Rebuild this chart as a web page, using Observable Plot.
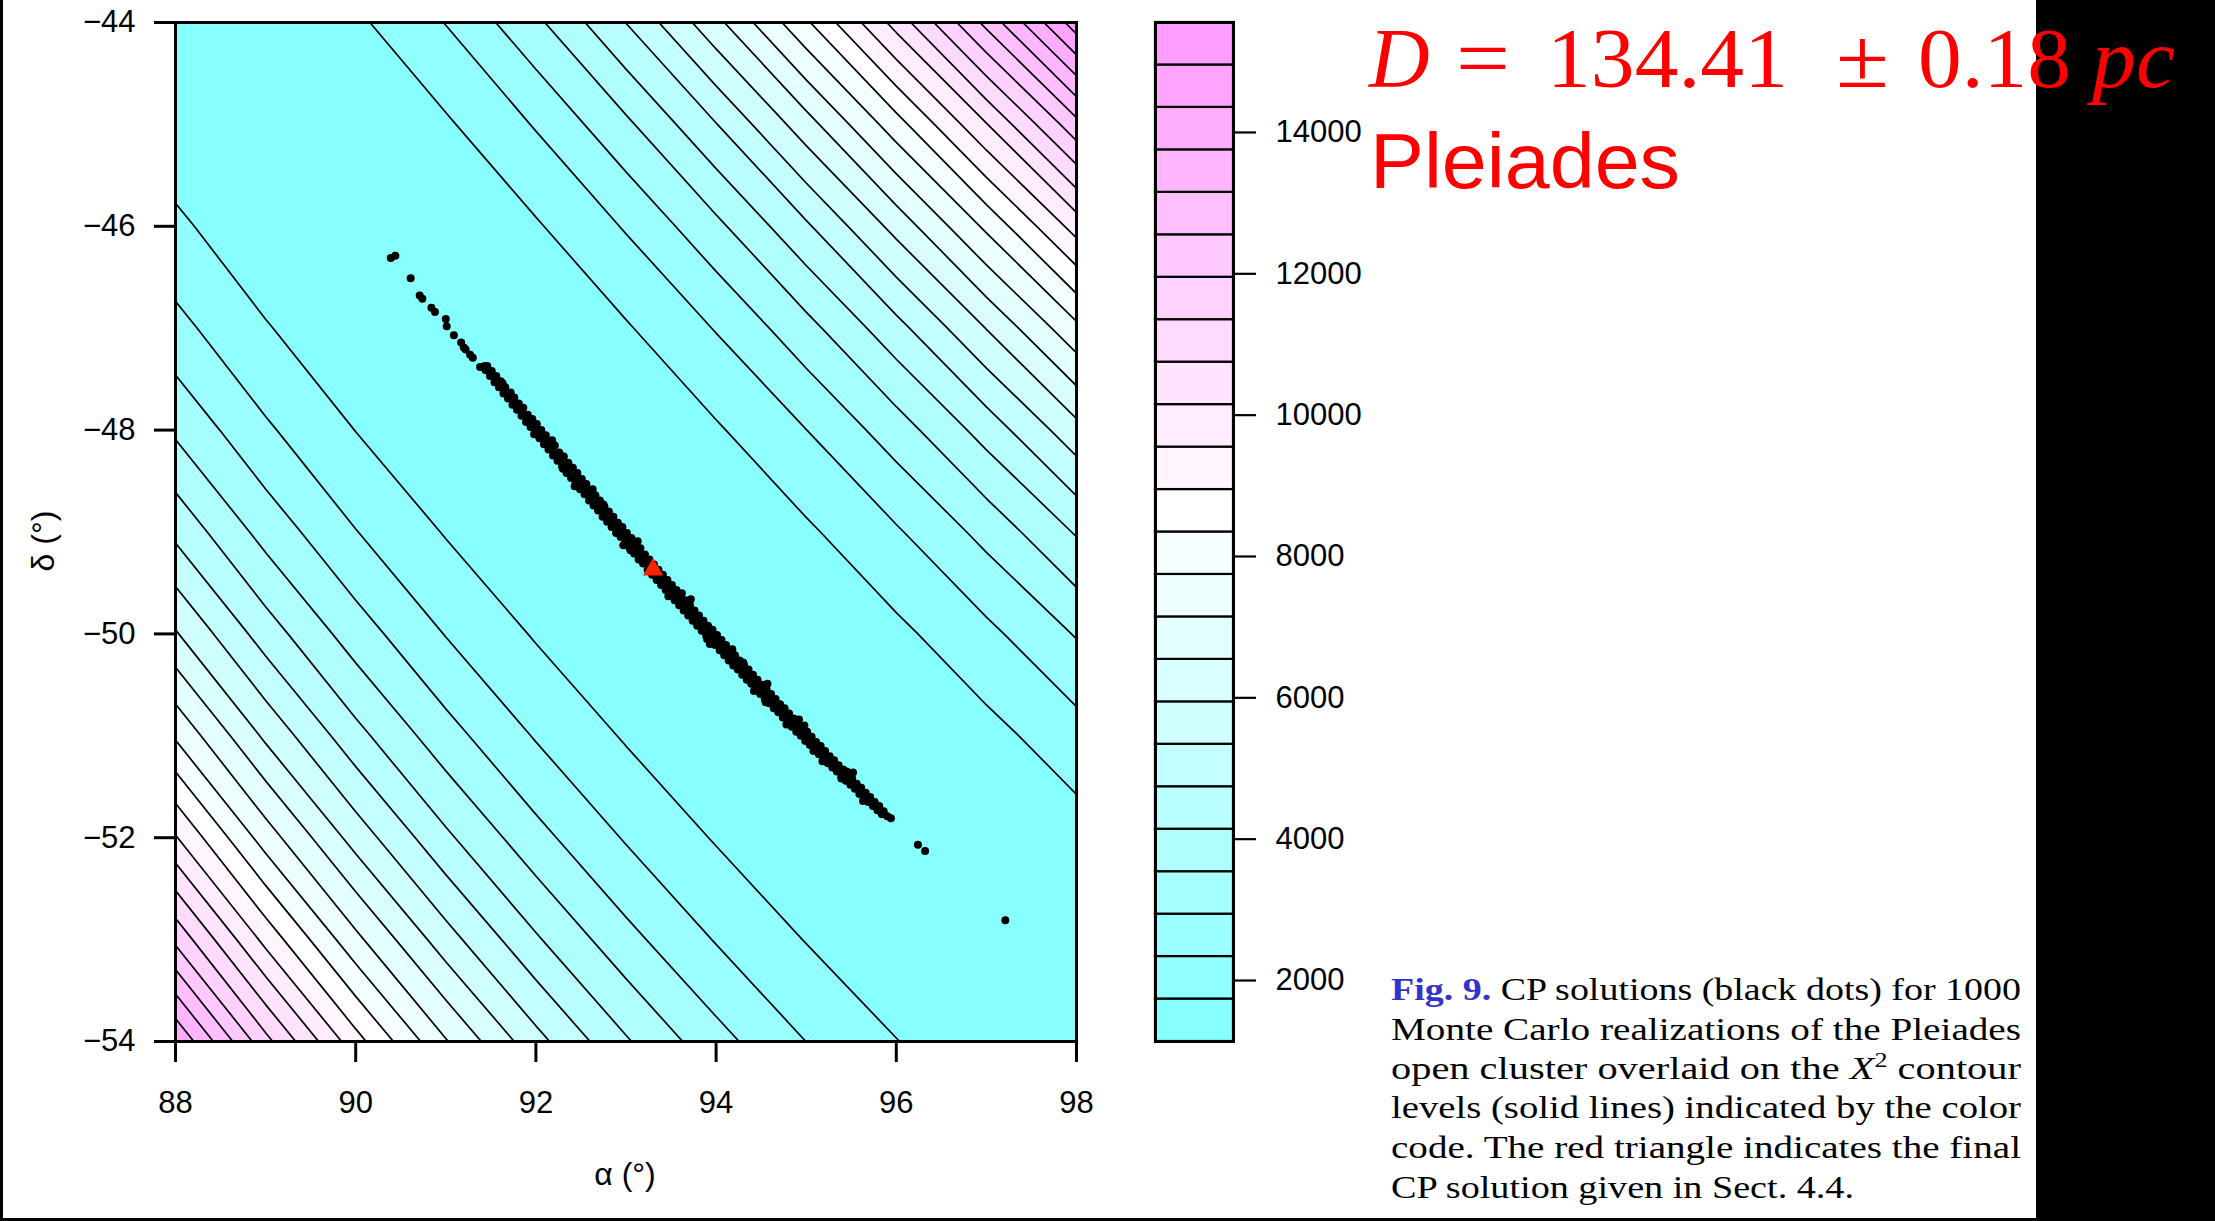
<!DOCTYPE html>
<html>
<head>
<meta charset="utf-8">
<script src="https://cdn.jsdelivr.net/npm/d3@7"></script>
<script src="https://cdn.jsdelivr.net/npm/@observablehq/plot@0.6"></script>
<style>
  html, body { margin: 0; padding: 0; background: #fff; }
  #page { position: relative; width: 2215px; height: 1221px; overflow: hidden; background: #fff; }
  #page svg { display: block; }
  .abs { position: absolute; }
</style>
</head>
<body>
<div id="page">
  <div class="abs" style="left:2036px;top:0;width:179px;height:1221px;background:#000"></div>
  <div class="abs" style="left:0;top:0;width:3px;height:1221px;background:#000"></div>
  <div class="abs" style="left:0;top:1218px;width:2215px;height:3px;background:#000"></div>
  <div id="main" class="abs" style="left:0;top:0"></div>
  <div id="bar" class="abs" style="left:1110px;top:0"></div>
  <svg class="abs" style="left:0;top:0" width="2215" height="1221">
    <g font-family="'Liberation Serif', 'Times New Roman', serif" font-size="84" fill="#ff0000">
      <text x="1369" y="87" font-style="italic">D</text>
      <text x="1456" y="87" textLength="54" lengthAdjust="spacingAndGlyphs">=</text>
      <text x="1547" y="87" textLength="241" lengthAdjust="spacingAndGlyphs">134.41</text>
      <text x="1836" y="87" textLength="53" lengthAdjust="spacingAndGlyphs">±</text>
      <text x="1918" y="87" textLength="153" lengthAdjust="spacingAndGlyphs">0.18</text>
      <text x="2092" y="87" font-style="italic" textLength="83" lengthAdjust="spacingAndGlyphs">pc</text>
    </g>
    <text x="1370" y="188" font-family="'Liberation Sans', Arial, sans-serif" font-size="77" fill="#ff0000" textLength="310" lengthAdjust="spacingAndGlyphs">Pleiades</text>
    <g font-family="'Liberation Sans', Arial, sans-serif" font-size="32" fill="#000" text-anchor="middle">
      <text x="625" y="1185">α (°)</text>
      <text transform="translate(54,541) rotate(-90)">δ (°)</text>
    </g>
    <g font-family="'Liberation Serif', 'Times New Roman', serif" font-size="31" fill="#000">
      <text x="1391" y="1000" textLength="630" lengthAdjust="spacingAndGlyphs"><tspan font-weight="bold" fill="#3333cc">Fig. 9.</tspan> CP solutions (black dots) for 1000</text>
      <text x="1391" y="1040" textLength="630" lengthAdjust="spacingAndGlyphs">Monte Carlo realizations of the Pleiades</text>
      <text x="1391" y="1079" textLength="630" lengthAdjust="spacingAndGlyphs">open cluster overlaid on the <tspan font-style="italic">X</tspan><tspan font-size="20" dy="-12">2</tspan><tspan dy="12"> contour</tspan></text>
      <text x="1391" y="1118" textLength="630" lengthAdjust="spacingAndGlyphs">levels (solid lines) indicated by the color</text>
      <text x="1391" y="1158" textLength="630" lengthAdjust="spacingAndGlyphs">code. The red triangle indicates the final</text>
      <text x="1391" y="1198" textLength="463" lengthAdjust="spacingAndGlyphs">CP solution given in Sect. 4.4.</text>
    </g>
  </svg>
</div>
<script>
// ---------- data ----------
const alphaTicks = [88, 90, 92, 94, 96, 98];
const deltaTicks = [-44, -46, -48, -50, -52, -54];
const chi2Ticks = [2000, 4000, 6000, 8000, 10000, 12000, 14000];

// contour levels (25 edges -> 24 colour bands)
const chi2Levels = [1137, 1738, 2339, 2939, 3540, 4141, 4742, 5343, 5943, 6544, 7145, 7746, 8347,
  8947, 9548, 10149, 10750, 11351, 11951, 12552, 13153, 13754, 14355, 14955, 15556];

const bandColors = ["#87ffff", "#91ffff", "#9cffff", "#a6ffff", "#b0ffff", "#baffff", "#c4ffff",
  "#cfffff", "#d9ffff", "#e3ffff", "#edffff", "#f6ffff", "#ffffff",
  "#fff5ff", "#ffecff", "#ffe3ff", "#ffdaff", "#ffd1ff", "#ffc8ff", "#ffbfff", "#ffb6ff",
  "#ffadff", "#ffa4ff", "#ff9cff"];

// chi^2 surface sampled on a 1-degree grid (rows: delta -44 ... -54, columns: alpha 88 ... 98)
const gridAlpha = [88, 89, 90, 91, 92, 93, 94, 95, 96, 97, 98];
const gridDelta = [-44, -45, -46, -47, -48, -49, -50, -51, -52, -53, -54];
const chi2Grid = [
  [1178, 1223, 1622, 2358, 3407, 4752, 6372, 8252, 10374, 12722, 15281],
  [1393, 1167, 1242, 1656, 2386, 3415, 4719, 6284, 8089, 10118, 12357],
  [1839, 1356, 1162, 1257, 1674, 2392, 3389, 4647, 6146, 7869, 9801],
  [2518, 1775, 1330, 1159, 1265, 1678, 2373, 3332, 4534, 5961, 7598],
  [3433, 2426, 1728, 1313, 1157, 1267, 1666, 2332, 3244, 4384, 5734],
  [4591, 3313, 2358, 1697, 1304, 1157, 1262, 1639, 2267, 3127, 4200],
  [5999, 4443, 3225, 2313, 1681, 1302, 1158, 1250, 1598, 2183, 2984],
  [7665, 5821, 4332, 3164, 2289, 1677, 1308, 1160, 1232, 1545, 2081],
  [9600, 7456, 5688, 4256, 3132, 2283, 1688, 1321, 1164, 1211, 1484],
  [11814, 9359, 7300, 5597, 4216, 3125, 2299, 1713, 1343, 1172, 1189],
  [14321, 11540, 9179, 7193, 5548, 4208, 3147, 2336, 1752, 1376, 1186]
];

// Monte Carlo CP solutions [alpha, delta]
const mcSolutions = [
  [90.39,-46.31],[90.44,-46.29],[90.61,-46.51],[90.71,-46.68],[90.74,-46.71],[90.84,-46.80],[90.88,-46.84],
  [91.00,-46.91],[91.01,-46.98],[91.09,-47.07],[91.17,-47.14],[91.20,-47.19],[91.22,-47.21],[91.27,-47.26],
  [91.30,-47.29],[91.38,-47.38],[91.43,-47.37],
  [91.46,-47.37],[91.44,-47.41],[91.51,-47.42],[91.49,-47.47],[91.56,-47.47],[91.54,-47.53],[91.61,-47.52],[91.59,-47.58],
  [91.66,-47.58],[91.64,-47.64],[91.72,-47.63],[91.69,-47.69],[91.76,-47.68],[91.74,-47.75],[91.81,-47.74],[91.79,-47.80],
  [91.86,-47.78],[91.84,-47.86],[91.91,-47.85],[91.89,-47.92],[91.96,-47.89],[91.94,-47.97],[92.01,-47.94],[91.99,-48.03],
  [92.06,-48.00],[92.04,-48.08],[92.11,-48.05],[92.09,-48.14],[92.16,-48.11],[92.14,-48.19],[92.21,-48.15],[92.19,-48.25],
  [92.26,-48.22],[92.24,-48.30],[92.31,-48.26],[92.29,-48.36],[92.36,-48.32],[92.34,-48.42],[92.41,-48.37],[92.39,-48.47],
  [92.46,-48.42],[92.44,-48.52],[92.51,-48.48],[92.49,-48.58],[92.56,-48.53],[92.54,-48.63],[92.61,-48.59],[92.59,-48.69],
  [92.66,-48.64],[92.64,-48.74],[92.71,-48.69],[92.69,-48.79],[92.76,-48.75],[92.74,-48.85],[92.81,-48.80],[92.79,-48.90],
  [92.86,-48.85],[92.84,-48.95],[92.91,-48.91],[92.89,-49.01],[92.96,-48.95],[92.94,-49.05],[93.01,-49.01],[92.99,-49.11],
  [93.06,-49.06],[93.04,-49.16],[93.11,-49.11],[93.09,-49.21],[93.16,-49.16],[93.14,-49.27],[93.21,-49.22],[93.19,-49.31],
  [93.26,-49.27],[93.24,-49.37],[93.31,-49.32],[93.29,-49.42],[93.36,-49.37],[93.34,-49.47],[93.41,-49.42],[93.39,-49.52],
  [93.46,-49.47],[93.44,-49.57],[93.51,-49.52],[93.49,-49.62],[93.56,-49.57],[93.54,-49.67],[93.61,-49.62],[93.59,-49.72],
  [93.66,-49.67],[93.64,-49.77],[93.71,-49.72],[93.69,-49.82],[93.76,-49.77],[93.74,-49.87],[93.81,-49.82],[93.79,-49.92],
  [93.86,-49.87],[93.84,-49.97],[93.91,-49.92],[93.89,-50.02],[93.96,-49.96],[93.94,-50.07],[94.01,-50.01],[93.99,-50.11],
  [94.06,-50.06],[94.04,-50.16],[94.11,-50.11],[94.09,-50.21],[94.16,-50.16],[94.14,-50.26],[94.21,-50.21],[94.19,-50.31],
  [94.26,-50.26],[94.24,-50.35],[94.31,-50.30],[94.29,-50.40],[94.36,-50.35],[94.34,-50.45],[94.41,-50.40],[94.39,-50.49],
  [94.46,-50.45],[94.44,-50.55],[94.51,-50.50],[94.49,-50.59],[94.56,-50.54],[94.54,-50.64],[94.61,-50.59],[94.59,-50.68],
  [94.66,-50.64],[94.64,-50.73],[94.71,-50.69],[94.69,-50.77],[94.76,-50.73],[94.74,-50.82],[94.81,-50.78],[94.79,-50.87],
  [94.86,-50.83],[94.84,-50.91],[94.91,-50.87],[94.89,-50.96],[94.96,-50.92],[94.94,-51.00],[95.01,-50.96],[94.99,-51.05],
  [95.06,-51.01],[95.04,-51.09],[95.11,-51.06],[95.09,-51.14],[95.16,-51.10],[95.14,-51.18],[95.21,-51.15],[95.19,-51.22],
  [95.26,-51.20],[95.24,-51.27],[95.31,-51.24],[95.29,-51.31],[95.36,-51.29],[95.34,-51.35],[95.41,-51.33],[95.39,-51.40],
  [95.46,-51.38],[95.44,-51.44],[95.51,-51.42],[95.49,-51.48],[95.56,-51.47],[95.54,-51.52],[95.61,-51.51],[95.59,-51.57],
  [95.66,-51.56],[95.64,-51.61],[95.71,-51.60],[95.69,-51.65],[95.76,-51.65],[95.74,-51.69],[95.81,-51.69],[95.79,-51.73],
  [95.86,-51.74],[95.84,-51.77],
  [91.475,-47.42],[91.525,-47.47],[91.575,-47.53],[91.625,-47.58],[91.675,-47.63],[91.725,-47.69],[91.775,-47.74],
  [91.825,-47.80],[91.875,-47.85],[91.925,-47.91],[91.975,-47.96],[92.025,-48.01],[92.075,-48.07],[92.125,-48.12],
  [92.175,-48.18],[92.225,-48.23],[92.275,-48.28],[92.325,-48.34],[92.375,-48.39],[92.425,-48.45],[92.475,-48.50],
  [92.525,-48.55],[92.575,-48.61],[92.625,-48.66],[92.675,-48.72],[92.725,-48.77],[92.775,-48.82],[92.825,-48.88],
  [92.875,-48.93],[92.925,-48.98],[92.975,-49.03],[93.025,-49.08],[93.075,-49.14],[93.125,-49.19],[93.175,-49.24],
  [93.225,-49.29],[93.275,-49.34],[93.325,-49.39],[93.375,-49.44],[93.425,-49.49],[93.475,-49.54],[93.525,-49.59],
  [93.575,-49.64],[93.625,-49.69],[93.675,-49.74],[93.725,-49.79],[93.775,-49.84],[93.825,-49.89],[93.875,-49.94],
  [93.925,-49.99],[93.975,-50.04],[94.025,-50.09],[94.075,-50.14],[94.125,-50.19],[94.175,-50.23],[94.225,-50.28],
  [94.275,-50.33],[94.325,-50.38],[94.375,-50.43],[94.425,-50.47],[94.475,-50.52],[94.525,-50.57],[94.575,-50.61],
  [94.625,-50.66],[94.675,-50.71],[94.725,-50.75],[94.775,-50.80],[94.825,-50.85],[94.875,-50.89],[94.925,-50.94],
  [94.975,-50.98],[95.025,-51.03],[95.075,-51.08],[95.125,-51.12],[95.175,-51.17],[95.225,-51.21],[95.275,-51.26],
  [95.325,-51.30],[95.375,-51.34],[95.425,-51.39],[95.475,-51.43],[95.525,-51.48],[95.575,-51.52],[95.625,-51.56],
  [95.675,-51.61],[95.725,-51.65],[95.775,-51.69],[95.825,-51.74],
  [91.63,-47.54],[91.98,-48.04],[92.18,-48.10],[92.43,-48.55],[92.63,-48.58],[92.97,-49.13],[93.13,-49.09],
  [93.47,-49.63],[93.72,-49.66],[93.93,-50.10],[94.18,-50.15],[94.42,-50.56],[94.57,-50.49],[94.78,-50.89],
  [94.98,-50.90],[95.18,-51.25],[95.39,-51.42],[95.52,-51.36],[95.63,-51.64],
  [92.30,-48.38],[92.75,-48.73],[93.05,-49.18],[93.62,-49.60],[93.90,-50.05],[94.30,-50.28],[94.55,-50.67],
  [94.92,-50.84],[95.08,-51.15],[95.45,-51.35],
  [95.90,-51.79],[95.94,-51.81],[96.24,-52.07],[96.32,-52.13],[97.21,-52.81]
];

// final CP solution (red triangle)
const cpSolution = [[93.30, -49.37]];

// ---------- drawing ----------
const font = "'Liberation Sans', Arial, Helvetica, sans-serif";
const colorScale = {type: "threshold", domain: chi2Levels.slice(1, chi2Levels.length - 1), range: bandColors};
const stepA = gridAlpha[1] - gridAlpha[0];
const stepD = gridDelta[1] - gridDelta[0];
const minus = (d) => (d < 0 ? "\u2212" : "") + Math.abs(d);

const main = Plot.plot({
  width: 1100, height: 1221,
  marginLeft: 175, marginRight: 24, marginTop: 22, marginBottom: 180,
  style: {fontFamily: font, fontSize: "31px", background: "transparent", color: "black", overflow: "visible"},
  x: {domain: [gridAlpha[0], gridAlpha[gridAlpha.length - 1]]},
  y: {domain: [gridDelta[gridDelta.length - 1], gridDelta[0]]},
  color: colorScale,
  marks: [
    Plot.frame({fill: bandColors[0], stroke: "none"}),
    Plot.contour(chi2Grid.flat(), {
      width: gridAlpha.length, height: gridDelta.length,
      x1: gridAlpha[0] - stepA / 2, x2: gridAlpha[gridAlpha.length - 1] + stepA / 2,
      y1: gridDelta[0] - stepD / 2, y2: gridDelta[gridDelta.length - 1] + stepD / 2,
      fill: Plot.identity, stroke: "black", strokeWidth: 1.7,
      thresholds: chi2Levels, clip: true
    }),
    Plot.dot(mcSolutions, {x: (d) => d[0], y: (d) => d[1], r: 4, fill: "black", stroke: null}),
    Plot.dot(cpSolution, {x: (d) => d[0], y: (d) => d[1], symbol: "triangle", r: 7.5, fill: "#ff2200", stroke: null}),
    Plot.frame({stroke: "black", strokeWidth: 3}),
    Plot.axisX({ticks: alphaTicks, tickSize: 21, tickPadding: 28, strokeWidth: 3, label: null, tickFormat: (d) => String(d)}),
    Plot.axisY({ticks: deltaTicks, tickSize: 21, tickPadding: 19, strokeWidth: 3, label: null, tickFormat: minus})
  ]
});
document.getElementById("main").appendChild(main);

const bands = d3.range(chi2Levels.length - 1).map((i) => ({lo: chi2Levels[i], hi: chi2Levels[i + 1]}));
const bar = Plot.plot({
  width: 263, height: 1221,
  marginLeft: 45, marginRight: 140, marginTop: 22, marginBottom: 180,
  style: {fontFamily: font, fontSize: "31px", background: "transparent", color: "black", overflow: "visible"},
  x: {domain: [0, 1], axis: null},
  y: {domain: [chi2Levels[0], chi2Levels[chi2Levels.length - 1]]},
  color: colorScale,
  marks: [
    Plot.rect(bands, {x1: () => 0, x2: () => 1, y1: "lo", y2: "hi", fill: "lo", stroke: "black", strokeWidth: 2.2}),
    Plot.frame({stroke: "black", strokeWidth: 3}),
    Plot.axisY({anchor: "right", ticks: chi2Ticks, tickSize: 22, tickPadding: 20, strokeWidth: 2.2, label: null, tickFormat: (d) => String(d)})
  ]
});
document.getElementById("bar").appendChild(bar);
</script>
</body>
</html>
